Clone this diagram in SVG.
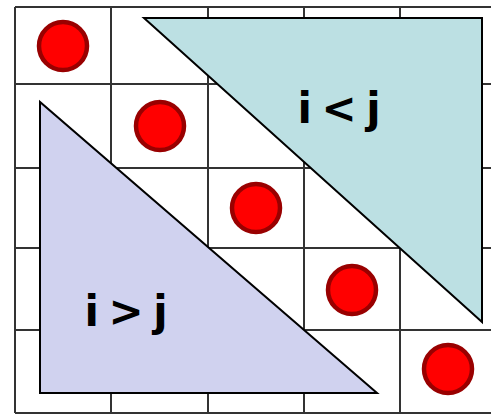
<svg xmlns="http://www.w3.org/2000/svg" width="491" height="417" viewBox="0 0 491 417">
<style>
.grid line{stroke:#333;stroke-width:2}
.dot{fill:#ff0000;stroke:#990000;stroke-width:4.5}
.tri{stroke:#000;stroke-width:2;stroke-linejoin:miter}
.lbl{font-family:"DejaVu Sans",sans-serif;font-weight:bold;font-size:42px;word-spacing:-5px;fill:#000}
</style>
<rect width="491" height="417" fill="#fff"/>
<g id="grid" class="grid">
<line x1="15" y1="7" x2="491" y2="7"/>
<line x1="15" y1="84" x2="491" y2="84"/>
<line x1="15" y1="168" x2="491" y2="168"/>
<line x1="15" y1="248" x2="491" y2="248"/>
<line x1="15" y1="330" x2="491" y2="330"/>
<line x1="15" y1="413" x2="491" y2="413"/>
<line x1="15" y1="7" x2="15" y2="413"/>
<line x1="111" y1="7" x2="111" y2="413"/>
<line x1="208" y1="7" x2="208" y2="413"/>
<line x1="304" y1="7" x2="304" y2="413"/>
<line x1="400" y1="7" x2="400" y2="413"/>
</g>
<g id="dots">
<circle class="dot" cx="63" cy="46" r="24"/>
<circle class="dot" cx="160" cy="126" r="24"/>
<circle class="dot" cx="256" cy="208" r="24"/>
<circle class="dot" cx="352" cy="290" r="24"/>
<circle class="dot" cx="448" cy="369" r="24"/>
</g>
<g id="upper">
<polygon class="tri" points="144,18 482,18 482,322" fill="#bce0e3"/>
<text class="lbl" x="339" y="123" text-anchor="middle">i &lt; j</text>
</g>
<g id="lower">
<polygon class="tri" points="40,102 40,393 377,393" fill="#d0d2ef"/>
<text class="lbl" x="126" y="326" text-anchor="middle">i &gt; j</text>
</g>
</svg>
